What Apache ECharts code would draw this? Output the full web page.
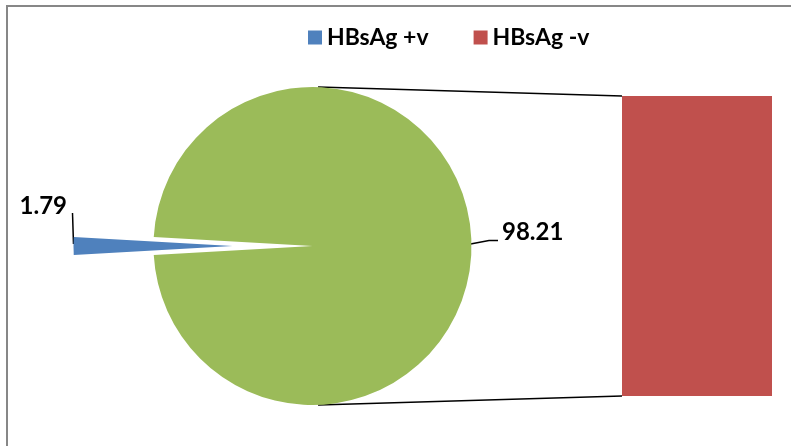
<!DOCTYPE html>
<html><head><meta charset="utf-8">
<script src="https://cdn.jsdelivr.net/npm/echarts@6/dist/echarts.min.js"></script>
<style>html,body{margin:0;padding:0;background:#fff}#c{width:791px;height:446px}</style>
</head><body><div id="c"></div>
<script>
// ---- data ----
var categories = ['HBsAg +v', 'HBsAg -v'];
var values = [1.79, 98.21];
var otherName = 'Other';
var colors = ['#4F81BD', '#C0504D'];
var pieColor = '#9BBB59';

// ---- layout ----
var CX = 312.5, CY = 246, R = 159, EXPLODE = 80;
var BAR = {left: 622, top: 96, width: 150, height: 300};
var FONT = 'Lato';
var total = values[0] + values[1];
var half = 360 * values[0] / total / 2;
var startAngle = 180 + half;

function gap(name, v) {
  return {name: name, value: v, itemStyle: {color: 'rgba(0,0,0,0)'}, label: {show: false}, labelLine: {show: false}, emphasis: {disabled: true}};
}

function labelLayout(p) {
  if (p.seriesIndex === 0 && p.dataIndex === 1) {
    var sx = CX + R - 1, sy = CY - 2;
    return {x: sx + 31.5, y: sy - 12, align: 'left', verticalAlign: 'middle',
      labelLinePoints: [[sx, sy], [sx + 18.5, sy - 3.5], [sx + 27.5, sy - 3.5]]};
  }
  if (p.seriesIndex === 1 && p.dataIndex === 0) {
    var bx = CX - EXPLODE - R, by = CY - 2;
    return {x: bx - 6.5, y: by - 38, align: 'right', verticalAlign: 'middle',
      labelLinePoints: [[bx, by], [bx - 1, by - 31], [bx - 1, by - 31]]};
  }
  return {};
}

var labelStyle = {show: true, formatter: '{c}', fontFamily: FONT, fontWeight: 'bold', fontSize: 24, color: '#000'};
var lineStyle = {show: true, length: 15, length2: 10, lineStyle: {color: '#000', width: 1.5}};

var a = 88 * Math.PI / 180;
var topPt = [CX + R * Math.cos(a), CY - R * Math.sin(a)];
var botPt = [CX + R * Math.cos(a), CY + R * Math.sin(a)];

var chart = echarts.init(document.getElementById('c'), null, {renderer: 'canvas'});
chart.setOption({
  animation: false,
  backgroundColor: '#fff',
  legend: {
    data: [{name: categories[0], icon: 'rect'}, {name: categories[1], icon: 'rect'}],
    left: 303, top: 21, itemWidth: 14, itemHeight: 14, itemGap: 45,
    selectedMode: false,
    textStyle: {fontFamily: FONT, fontWeight: 'bold', fontSize: 23, color: '#000'}
  },
  grid: {left: BAR.left, top: BAR.top, width: BAR.width, height: BAR.height, containLabel: false},
  xAxis: {type: 'category', data: [categories[1]], show: false},
  yAxis: {type: 'value', min: 0, max: values[1], show: false},
  graphic: [
    {type: 'rect', shape: {x: 7, y: 6, width: 900, height: 600}, style: {fill: 'none', stroke: '#878787', lineWidth: 2}, z: -1, silent: true},
    {type: 'line', shape: {x1: topPt[0], y1: topPt[1], x2: BAR.left, y2: BAR.top}, style: {stroke: '#000', lineWidth: 1.5}, silent: true},
    {type: 'line', shape: {x1: botPt[0], y1: botPt[1], x2: BAR.left, y2: BAR.top + BAR.height}, style: {stroke: '#000', lineWidth: 1.5}, silent: true}
  ],
  series: [
    {
      type: 'pie', center: [CX, CY], radius: R, startAngle: startAngle, clockwise: true,
      avoidLabelOverlap: false, silent: true,
      data: [gap('_a', values[0]), {name: otherName, value: values[1], itemStyle: {color: pieColor}}],
      label: labelStyle, labelLine: lineStyle, labelLayout: labelLayout
    },
    {
      type: 'pie', center: [CX - EXPLODE, CY], radius: R, startAngle: startAngle, clockwise: true,
      avoidLabelOverlap: false, silent: true,
      data: [{name: categories[0], value: values[0], itemStyle: {color: colors[0]}}, gap('_b', values[1])],
      label: labelStyle, labelLine: lineStyle, labelLayout: labelLayout
    },
    {
      type: 'bar', name: categories[1], data: [values[1]], barWidth: '100%',
      itemStyle: {color: colors[1]}, silent: true
    }
  ]
});
</script>
</body></html>
